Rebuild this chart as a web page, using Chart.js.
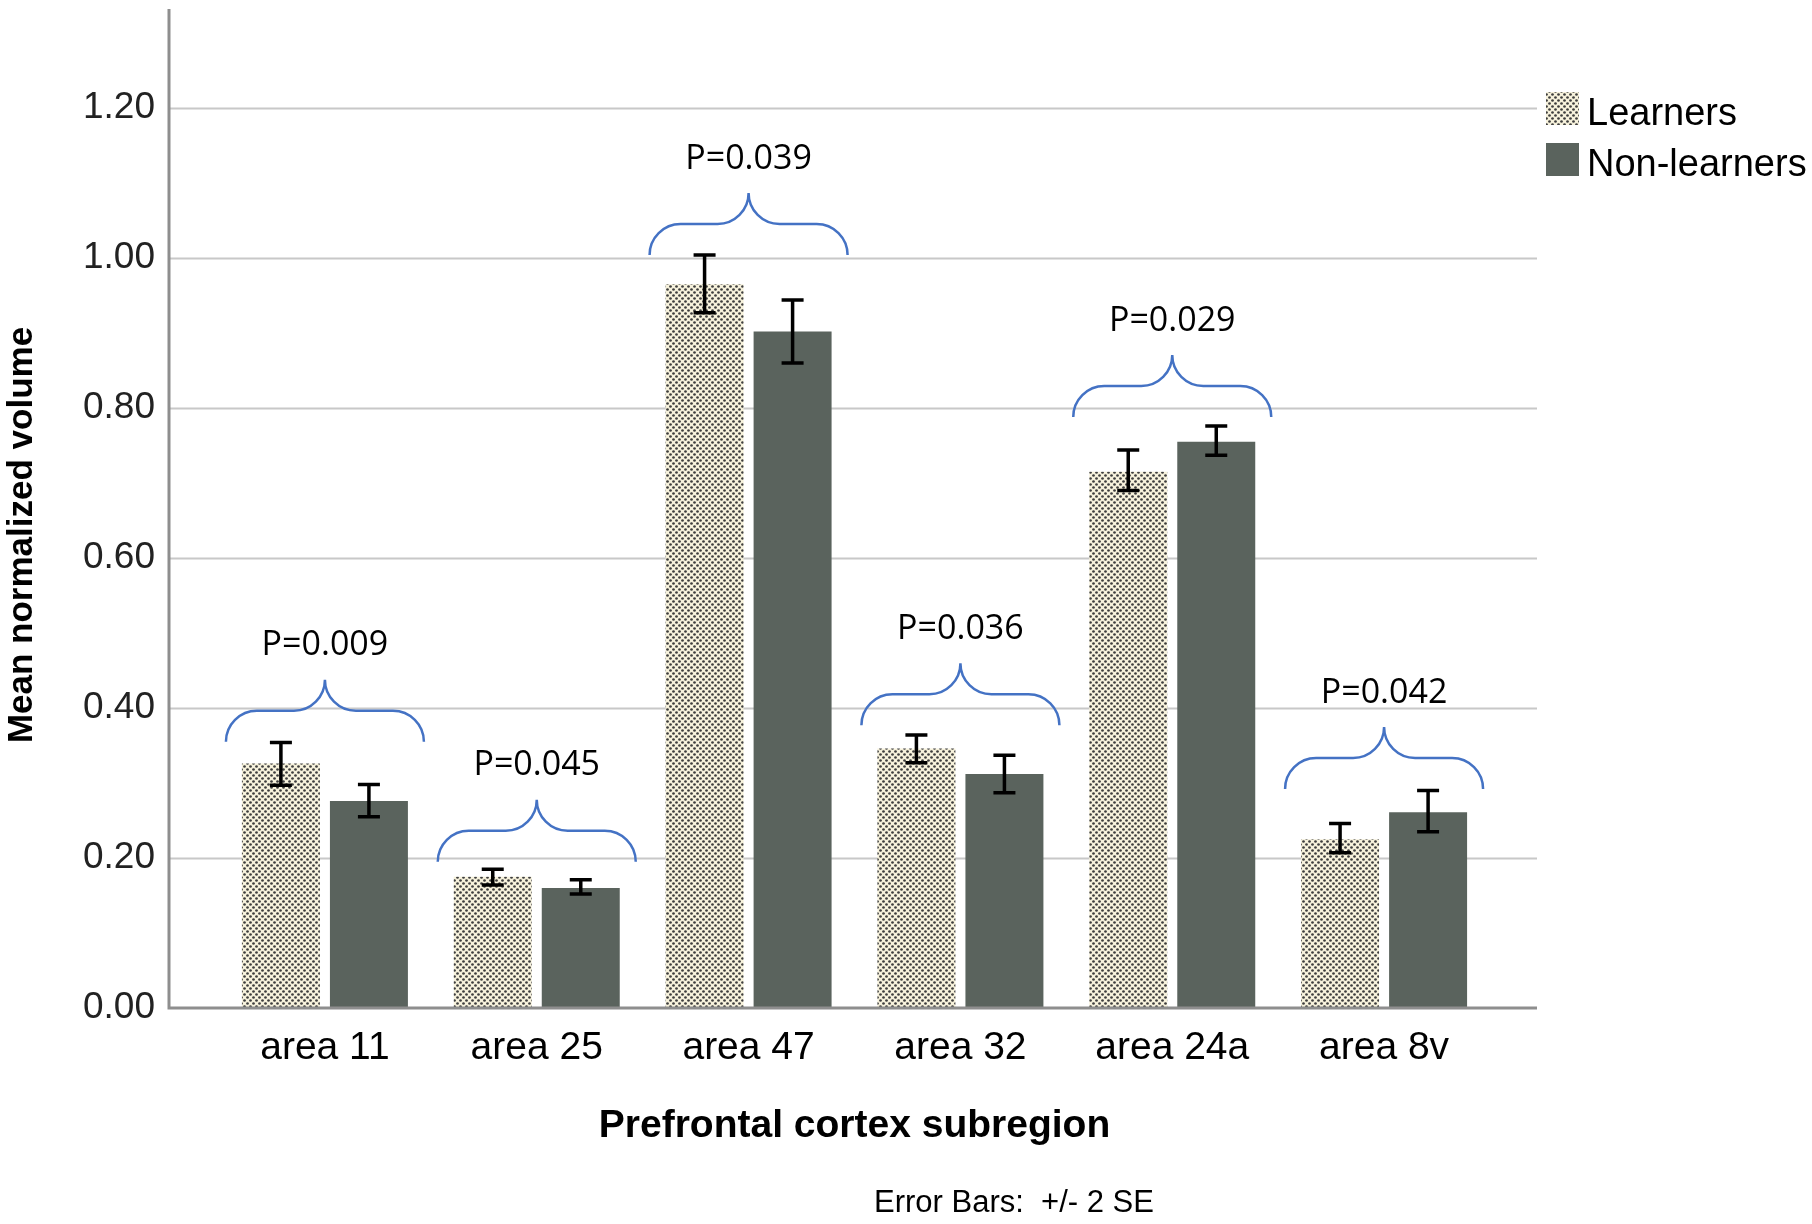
<!DOCTYPE html>
<html>
<head>
<meta charset="utf-8">
<title>Prefrontal cortex subregion volume</title>
<script src="https://cdn.jsdelivr.net/npm/chart.js@4.4.1/dist/chart.umd.min.js"></script>
<style>
    html, body { margin: 0; padding: 0; background: #fff; }
    #chart { display: block; }
</style>
</head>
<body>
<canvas id="chart" width="1812" height="1224"></canvas>
<script>
// Chart data
const categories = ['area 11', 'area 25', 'area 47', 'area 32', 'area 24a', 'area 8v'];

const learners     = [0.326, 0.175, 0.965, 0.346, 0.715, 0.225];
const learnersLow  = [0.297, 0.164, 0.927, 0.327, 0.690, 0.207];
const learnersHigh = [0.354, 0.185, 1.004, 0.364, 0.744, 0.246];

const nonLearners     = [0.276, 0.160, 0.902, 0.312, 0.755, 0.261];
const nonLearnersLow  = [0.255, 0.152, 0.860, 0.287, 0.737, 0.235];
const nonLearnersHigh = [0.298, 0.171, 0.944, 0.337, 0.776, 0.290];

// p-value labels and the level (in axis units) where each brace starts
const pLabels     = ['P=0.009', 'P=0.045', 'P=0.039', 'P=0.036', 'P=0.029', 'P=0.042'];
const braceLevels = [0.355, 0.195, 1.004, 0.377, 0.788, 0.292];

const yTicks = [0, 0.2, 0.4, 0.6, 0.8, 1.0, 1.2];
const Y_MAX = 1.332;

const LEARNER_BG = '#f7f2dc';
const LEARNER_DOT = '#3d3d3d';
const NON_LEARNER_COLOR = '#5a635d';
const BRACE_COLOR = '#4472c4';
const SANS = '"Liberation Sans", Arial, sans-serif';

const canvas = document.getElementById('chart');
const ctx = canvas.getContext('2d');

// Dotted fill used by the "Learners" bars
function makeDotPattern() {
    const tile = document.createElement('canvas');
    tile.width = 6;
    tile.height = 6;
    const g = tile.getContext('2d');
    g.fillStyle = LEARNER_BG;
    g.fillRect(0, 0, 6, 6);
    g.fillStyle = LEARNER_DOT;
    [[1.5, 1.5], [4.5, 4.5]].forEach(([x, y]) => {
        g.beginPath();
        g.arc(x, y, 1.35, 0, Math.PI * 2);
        g.fill();
    });
    return ctx.createPattern(tile, 'repeat');
}
const dotPattern = makeDotPattern();

// Grid lines and axis lines (they run past the category area, like SPSS)
const gridPlugin = {
    id: 'spssGrid',
    beforeDatasetsDraw(chart) {
        const c = chart.ctx;
        const area = chart.chartArea;
        const y = chart.scales.y;
        const left = area.left - 50;
        const right = area.right + 47;
        c.save();
        c.strokeStyle = '#c8c8c8';
        c.lineWidth = 2;
        yTicks.forEach(v => {
            if (v === 0) return;
            const py = Math.round(y.getPixelForValue(v)) + 0.5;
            c.beginPath();
            c.moveTo(left, py);
            c.lineTo(right, py);
            c.stroke();
        });
        c.restore();
    },
    afterDatasetsDraw(chart) {
        const c = chart.ctx;
        const area = chart.chartArea;
        const left = area.left - 50;
        const right = area.right + 47;
        c.save();
        c.strokeStyle = '#8e8e8e';
        c.lineWidth = 3;
        c.beginPath();
        c.moveTo(left, area.top);
        c.lineTo(left, area.bottom);
        c.lineTo(right, area.bottom);
        c.stroke();
        c.restore();
    }
};

// Error bars (+/- 2 SE)
const errorBarPlugin = {
    id: 'errorBars',
    afterDatasetsDraw(chart) {
        const c = chart.ctx;
        const y = chart.scales.y;
        c.save();
        c.strokeStyle = '#000';
        c.lineWidth = 3.5;
        chart.data.datasets.forEach((ds, di) => {
            const meta = chart.getDatasetMeta(di);
            meta.data.forEach((bar, i) => {
                const top = y.getPixelForValue(ds.errHigh[i]);
                const bottom = y.getPixelForValue(ds.errLow[i]);
                const half = 11;
                c.beginPath();
                c.moveTo(bar.x, top);
                c.lineTo(bar.x, bottom);
                c.moveTo(bar.x - half, top);
                c.lineTo(bar.x + half, top);
                c.moveTo(bar.x - half, bottom);
                c.lineTo(bar.x + half, bottom);
                c.stroke();
            });
        });
        c.restore();
    }
};

// Curly braces with p-values over each pair
const bracePlugin = {
    id: 'braces',
    afterDatasetsDraw(chart) {
        const c = chart.ctx;
        const x = chart.scales.x;
        const y = chart.scales.y;
        const k = 0.5523;
        const r = 31;
        const halfWidth = 99;
        c.save();
        c.strokeStyle = BRACE_COLOR;
        c.lineWidth = 2.5;
        categories.forEach((cat, i) => {
            const cx = x.getPixelForValue(i);
            const base = y.getPixelForValue(braceLevels[i]);
            const L = cx - halfWidth;
            const R = cx + halfWidth;
            const mid = base - r;
            const peak = base - 2 * r;
            c.beginPath();
            c.moveTo(L, base);
            c.bezierCurveTo(L, base - r * k, L + r - r * k, mid, L + r, mid);
            c.lineTo(cx - r, mid);
            c.bezierCurveTo(cx - r + r * k, mid, cx, mid - r + r * k, cx, peak);
            c.bezierCurveTo(cx, mid - r + r * k, cx + r - r * k, mid, cx + r, mid);
            c.lineTo(R - r, mid);
            c.bezierCurveTo(R - r + r * k, mid, R, base - r * k, R, base);
            c.stroke();

            c.fillStyle = '#000';
            c.font = '34px "Open Sans", "Noto Sans", sans-serif';
            c.textAlign = 'center';
            c.textBaseline = 'middle';
            c.fillText(pLabels[i], cx, peak - 34);
        });
        c.restore();
    }
};

// Legend, y title and footnote
const textPlugin = {
    id: 'extraText',
    afterDraw(chart) {
        const c = chart.ctx;
        const area = chart.chartArea;
        c.save();

        // legend
        const sx = area.right + 56;
        const items = [
            { label: 'Learners', fill: dotPattern, top: 92 },
            { label: 'Non-learners', fill: NON_LEARNER_COLOR, top: 143 }
        ];
        items.forEach(item => {
            c.fillStyle = item.fill;
            c.fillRect(sx, item.top, 33, 33);
            c.fillStyle = '#000';
            c.font = '38px ' + SANS;
            c.textAlign = 'left';
            c.textBaseline = 'middle';
            c.fillText(item.label, sx + 41, item.top + 23);
        });

        // y axis title
        c.translate(22, 535);
        c.rotate(-Math.PI / 2);
        c.font = 'bold 35px ' + SANS;
        c.textAlign = 'center';
        c.textBaseline = 'middle';
        c.fillText('Mean normalized volume', 0, 0);
        c.restore();

        // footnote
        c.save();
        c.fillStyle = '#000';
        c.font = '31px ' + SANS;
        c.textAlign = 'center';
        c.textBaseline = 'middle';
        c.fillText('Error Bars:  +/- 2 SE', 1014, 1203);
        c.restore();
    }
};

const volumeChart = new Chart(ctx, {
    type: 'bar',
    data: {
        labels: categories,
        datasets: [
            {
                label: 'Learners',
                data: learners,
                errLow: learnersLow,
                errHigh: learnersHigh,
                backgroundColor: dotPattern,
                borderWidth: 0
            },
            {
                label: 'Non-learners',
                data: nonLearners,
                errLow: nonLearnersLow,
                errHigh: nonLearnersHigh,
                backgroundColor: NON_LEARNER_COLOR,
                borderWidth: 0
            }
        ]
    },
    options: {
        responsive: false,
        animation: false,
        layout: {
            padding: { left: 0, right: 322, top: 9, bottom: 0 }
        },
        datasets: {
            bar: { categoryPercentage: 0.831, barPercentage: 0.886 }
        },
        scales: {
            x: {
                grid: { display: false, drawTicks: false },
                border: { display: false },
                ticks: {
                    color: '#000',
                    padding: 17,
                    font: { family: SANS, size: 39 }
                },
                title: {
                    display: true,
                    text: 'Prefrontal cortex subregion',
                    color: '#000',
                    font: { family: SANS, size: 39, weight: 'bold' },
                    padding: { top: 0, bottom: 74 }
                },
                afterFit: scale => { scale.height = 216; }
            },
            y: {
                min: 0,
                max: Y_MAX,
                grid: { display: false, drawTicks: false },
                border: { display: false },
                ticks: {
                    color: '#222',
                    padding: 64,
                    font: { family: SANS, size: 37 },
                    callback: v => v.toFixed(2)
                },
                afterBuildTicks: scale => {
                    scale.ticks = yTicks.map(v => ({ value: v }));
                },
                afterFit: scale => {
                    scale.width = 219;
                    // keep the tick padding from pushing the plot area down
                    scale.paddingTop = 0;
                    scale.paddingBottom = 0;
                }
            }
        },
        plugins: {
            legend: { display: false },
            tooltip: { enabled: false }
        }
    },
    plugins: [gridPlugin, errorBarPlugin, bracePlugin, textPlugin]
});
</script>
</body>
</html>
